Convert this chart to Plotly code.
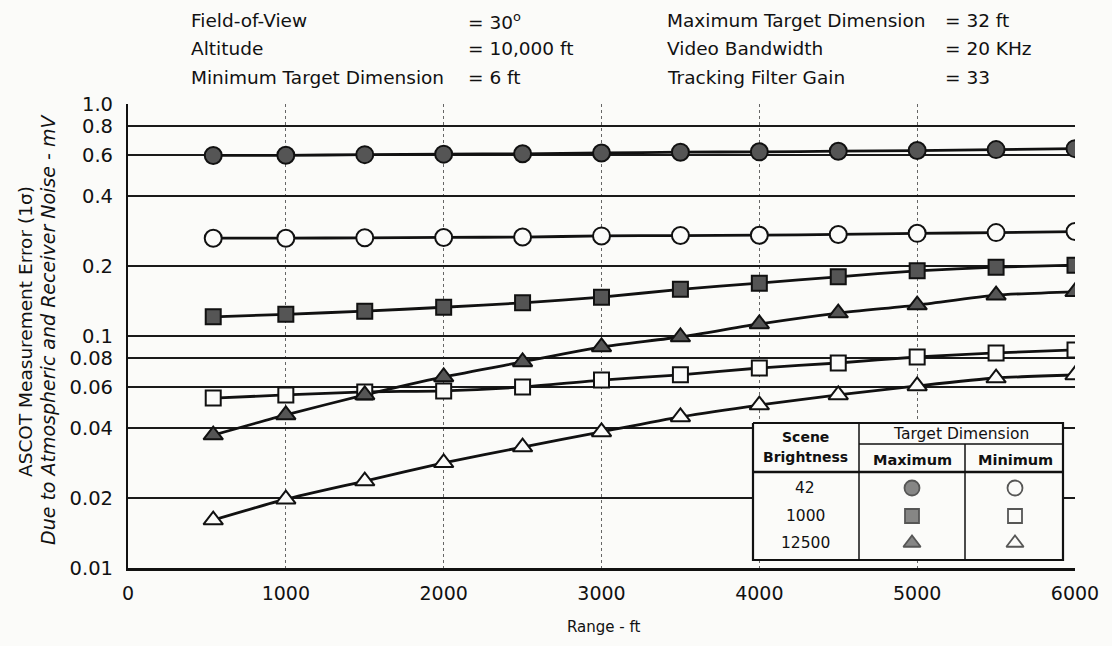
import plotly.graph_objects as go

# ---------------- data ----------------
range_ft = [540, 1000, 1500, 2000, 2500, 3000, 3500, 4000, 4500, 5000, 5500, 6000]

err_42_max = [0.600, 0.601, 0.605, 0.608, 0.610, 0.615, 0.620, 0.622, 0.626, 0.630, 0.636, 0.642]
err_42_min = [0.264, 0.264, 0.265, 0.266, 0.267, 0.270, 0.271, 0.272, 0.274, 0.277, 0.279, 0.282]
err_1000_max = [0.121, 0.124, 0.128, 0.133, 0.139, 0.147, 0.159, 0.169, 0.180, 0.191, 0.198, 0.202]
err_1000_min = [0.0540, 0.0557, 0.0574, 0.0580, 0.0603, 0.0646, 0.0680, 0.0728, 0.0765, 0.0812, 0.0845, 0.0871]
err_12500_max = [0.0374, 0.0457, 0.0557, 0.0666, 0.0773, 0.0897, 0.0990, 0.1127, 0.1256, 0.1360, 0.1500, 0.1550]
err_12500_min = [0.0161, 0.0198, 0.0237, 0.0284, 0.0332, 0.0386, 0.0448, 0.0504, 0.0557, 0.0609, 0.0659, 0.0679]

x_ticks = [0, 1000, 2000, 3000, 4000, 5000, 6000]
y_ticks = [0.01, 0.02, 0.04, 0.06, 0.08, 0.1, 0.2, 0.4, 0.6, 0.8, 1.0]
y_tick_text = ["0.01", "0.02", "0.04", "0.06", "0.08", "0.1", "0.2", "0.4", "0.6", "0.8", "1.0"]

brightness = ["42", "1000", "12500"]

header_left = [("Field-of-View", "= 30<sup>o</sup>"), ("Altitude", "= 10,000 ft"),
               ("Minimum Target Dimension", "= 6 ft")]
header_right = [("Maximum Target Dimension", "= 32 ft"), ("Video Bandwidth", "= 20 KHz"),
                ("Tracking Filter Gain", "= 33")]

# ---------------- layout geometry ----------------
W, H = 1112, 646
L, R, T, B = 128, 37, 104, 78
PW, PH = W - L - R, H - T - B
BG = "#fbfbf9"
FONT = "DejaVu Sans"
FILL = "#555555"
INK = "#111111"


def px(xp):
    return (xp - L) / PW


def py(yp):
    return (T + PH - yp) / PH


def dx(xp):  # pixel -> data x
    return (xp - L) / PW * 6000


def dy(yp):  # pixel -> data y (log axis, 2 decades)
    return 10 ** (-(yp - T) / (PH / 2))


series = [
    (err_42_max, "circle", FILL, 17),
    (err_42_min, "circle", BG, 17),
    (err_1000_max, "square", FILL, 15),
    (err_1000_min, "square", BG, 15),
    (err_12500_max, "triangle-up", FILL, 17),
    (err_12500_min, "triangle-up", BG, 17),
]

fig = go.Figure()

# ---------------- legend table box (drawn as traces, above the grid) ----------------
bx0, bx1, by0, by1 = 753, 1063, 423, 560
c1, c2 = 859, 965
fig.add_trace(go.Scatter(x=[dx(bx0), dx(bx1), dx(bx1), dx(bx0), dx(bx0)],
                         y=[dy(by0), dy(by0), dy(by1), dy(by1), dy(by0)],
                         mode="lines", fill="toself", fillcolor=BG,
                         line=dict(color=INK, width=2.2),
                         showlegend=False, hoverinfo="skip"))
thin_x = [dx(c1), dx(c1), None, dx(c2), dx(c2), None, dx(c1), dx(bx1)]
thin_y = [dy(by0), dy(by1), None, dy(444), dy(by1), None, dy(444), dy(444)]
fig.add_trace(go.Scatter(x=thin_x, y=thin_y, mode="lines",
                         line=dict(color=INK, width=1.5),
                         showlegend=False, hoverinfo="skip"))
fig.add_trace(go.Scatter(x=[dx(bx0), dx(bx1)], y=[dy(472), dy(472)], mode="lines",
                         line=dict(color=INK, width=2.4),
                         showlegend=False, hoverinfo="skip"))

# ---------------- data lines, then markers ----------------
for ys, sym, col, sz in series:
    fig.add_trace(go.Scatter(x=range_ft, y=ys, mode="lines",
                             line=dict(color=INK, width=2.8, shape="spline", smoothing=0.6),
                             showlegend=False, hoverinfo="skip"))
for ys, sym, col, sz in series:
    fig.add_trace(go.Scatter(x=range_ft, y=ys, mode="markers",
                             marker=dict(symbol=sym, size=sz, color=col,
                                         line=dict(color=INK, width=2)),
                             showlegend=False))

ann = []


def text(xp, yp, s, size=15, bold=False, italic=False, xanchor="center", angle=0):
    if bold:
        s = "<b>" + s + "</b>"
    if italic:
        s = "<i>" + s + "</i>"
    ann.append(dict(x=px(xp), y=py(yp), xref="paper", yref="paper", text=s, showarrow=False,
                    xanchor=xanchor, yanchor="middle", textangle=angle,
                    font=dict(family=FONT, size=size, color=INK)))


text(805, 437, "Scene", 14, bold=True)
text(805, 457, "Brightness", 14, bold=True)
text(961, 434, "Target Dimension", 15.5)
text(912, 460, "Maximum", 14.5, bold=True)
text(1015, 460, "Minimum", 14.5, bold=True)
row_y = [488, 516, 543]
for b, ry in zip(brightness, row_y):
    text(805, ry, b, 15.5)

# legend symbols through the plot axes
leg_x, leg_y = [], []
for ry in row_y:
    for cx in (912, 1015):
        leg_x.append(dx(cx))
        leg_y.append(dy(ry))
leg_sym = ["circle", "circle", "square", "square", "triangle-up", "triangle-up"]
leg_col = [FILL, BG, FILL, BG, FILL, BG]
leg_size = [15, 15, 14, 14, 15, 15]
fig.add_trace(go.Scatter(x=leg_x, y=leg_y, mode="markers",
                         marker=dict(symbol=leg_sym, size=leg_size, color=leg_col,
                                     line=dict(color=INK, width=1.8)),
                         showlegend=False, hoverinfo="skip"))

# ---------------- header ----------------
row_h = [21, 48, 77]
for (lab, val), yy in zip(header_left, row_h):
    text(189, yy, lab, 18.5, xanchor="left")
    text(466, yy, val, 18.5, xanchor="left")
for (lab, val), yy in zip(header_right, row_h):
    text(665, yy, lab, 18.5, xanchor="left")
    text(943, yy, val, 18.5, xanchor="left")

# axis titles
text(25, 332, "ASCOT Measurement Error (1σ)", 18.5, angle=-90)
text(48, 330, "Due to Atmospheric and Receiver Noise - mV", 19, italic=True, angle=-90)
text(604, 627, "Range - ft", 15)

fig.update_layout(
    width=W, height=H,
    margin=dict(l=L, r=R, t=T, b=B, pad=0),
    paper_bgcolor=BG, plot_bgcolor=BG,
    annotations=ann,
    xaxis=dict(range=[0, 6000], tickvals=x_ticks, showgrid=True, gridcolor="#666",
               griddash="dot", gridwidth=1, showline=True, linecolor=INK, linewidth=2.5,
               zeroline=False, ticks="", ticklabelstandoff=6,
               tickfont=dict(family=FONT, size=19, color=INK)),
    yaxis=dict(type="log", range=[-2, 0], tickvals=y_ticks, ticktext=y_tick_text,
               showgrid=True, gridcolor="#1a1a1a", gridwidth=1.7, showline=True,
               linecolor=INK, linewidth=2.2, zeroline=False, ticks="",
               ticklabelstandoff=9,
               tickfont=dict(family=FONT, size=19.5, color=INK)),
    showlegend=False,
)

fig.write_html("out.html")
